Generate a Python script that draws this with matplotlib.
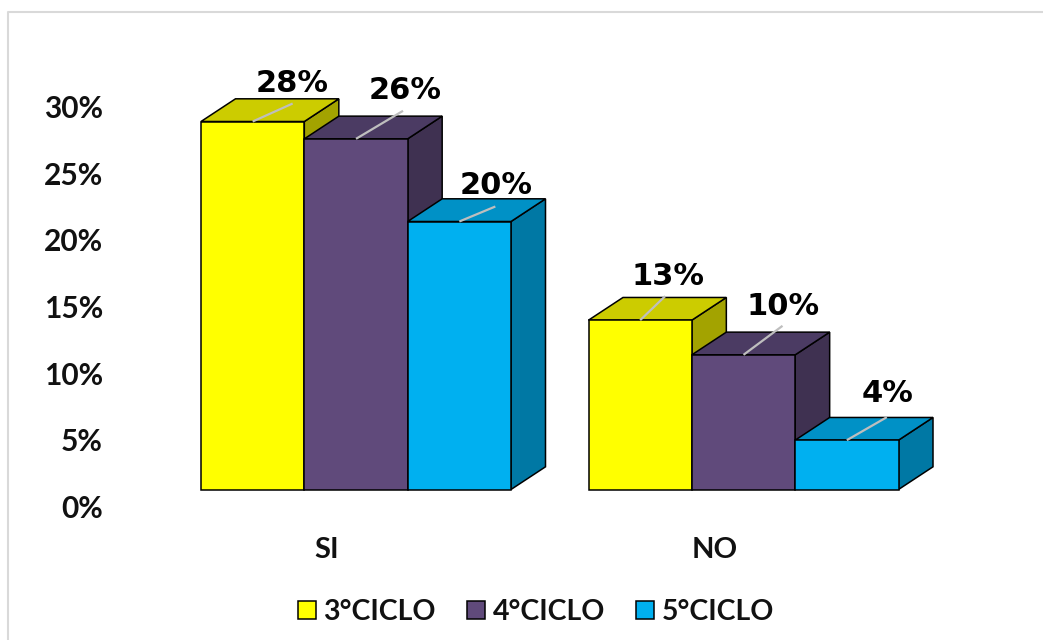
import matplotlib
matplotlib.use("Agg")
import matplotlib.pyplot as plt
from matplotlib.patches import Rectangle, Polygon, Patch
from matplotlib.lines import Line2D

# ---------------- data ----------------
categories = ["SI", "NO"]
series_names = ["3°CICLO", "4°CICLO", "5°CICLO"]
ciclo3 = [0.276, 0.127]
ciclo4 = [0.263, 0.101]
ciclo5 = [0.201, 0.037]
series_values = [ciclo3, ciclo4, ciclo5]
ytick_values = [0.0, 0.05, 0.10, 0.15, 0.20, 0.25, 0.30]

# ---------------- styles / placement ----------------
front_colors = ["#FFFF00", "#604A7B", "#00B0F0"]
top_colors = ["#CCCC00", "#4B3B63", "#0091C6"]
side_colors = ["#A3A300", "#3F3151", "#0078A4"]
# label placement nudges in pixels (dx, dy-up), per category then series
label_nudge = [[(39, 40), (49, 50), (37, 38)], [(28, 45), (40, 50), (41, 48)]]
leader_nudge = [[(40, 18), (47, 28), (36, 15)], [(25, 24), (39, 29), (40, 23)]]

W, H = 1043, 640
fig = plt.figure(figsize=(W / 100, H / 100), dpi=100)
ax = fig.add_axes([0, 0, 1, 1])

PXX = 387.5      # px per category unit
PXY = 1333.3     # px per 1.0 (100 %)
X0 = 356.0       # pixel x of category 0 centre
Y0 = 489.5       # pixel y (from top) of value 0
ax.set_xlim(-X0 / PXX, (W - X0) / PXX)
ax.set_ylim((Y0 - H) / PXY, Y0 / PXY)
ax.axis("off")

def px(dx):
    return dx / PXX

def py(dy):
    return dy / PXY

DX, DY = px(34.5), py(22.7)        # 3D depth offset
group_w = 0.8
bar_w = group_w / len(series_values)
edge_kw = dict(edgecolor="black", linewidth=1.1, joinstyle="miter")

z = 2
for ci, cat in enumerate(categories):
    for si, vals in enumerate(series_values):
        v = vals[ci]
        x = ci - group_w / 2 + si * bar_w
        ax.add_patch(Polygon([(x + bar_w, 0), (x + bar_w + DX, DY),
                              (x + bar_w + DX, v + DY), (x + bar_w, v)],
                             closed=True, facecolor=side_colors[si], zorder=z, **edge_kw))
        ax.add_patch(Polygon([(x, v), (x + bar_w, v), (x + bar_w + DX, v + DY),
                              (x + DX, v + DY)],
                             closed=True, facecolor=top_colors[si], zorder=z, **edge_kw))
        ax.add_patch(Rectangle((x, 0), bar_w, v, facecolor=front_colors[si],
                               zorder=z + 0.5, **edge_kw))
        xc = x + bar_w / 2
        ldx, ldy = leader_nudge[ci][si]
        ax.plot([xc, xc + px(ldx)], [v, v + py(ldy)], color="#BEBEBE", lw=1.6,
                zorder=z + 0.6, solid_capstyle="butt")
        tdx, tdy = label_nudge[ci][si]
        ax.text(xc + px(tdx), v + py(tdy - 10), f"{v:.0%}", ha="center", va="baseline",
                fontsize=22, fontweight="bold", family="DejaVu Sans",
                color="black", zorder=10)
        z += 1

# y tick labels
for t in ytick_values:
    ax.text(-X0 / PXX + px(103), t - py(28.5), f"{t:.0%}", ha="right", va="baseline",
            fontsize=21.5, fontweight="bold", family="Lato", color="#111111")

# category labels
for ci, cat in enumerate(categories):
    ax.text(ci - px(29), -py(69), cat, ha="center", va="baseline",
            fontsize=21, fontweight="bold", family="Lato", color="#111111")

# legend
handles = [Patch(facecolor=c, edgecolor="black", linewidth=1.1) for c in front_colors]
leg = ax.legend(handles, series_names, loc="center", ncol=3, frameon=False,
                bbox_to_anchor=(536 / W, 1 - 612 / H), bbox_transform=fig.transFigure,
                prop={"family": "Lato", "weight": "bold", "size": 20.5},
                handlelength=0.64, handleheight=0.62, handletextpad=0.25,
                columnspacing=1.1, borderpad=0)
for t in leg.get_texts():
    t.set_color("#111111")

# outer chart border
fig.add_artist(Line2D([7.5 / W, 7.5 / W, 1.0], [0, 1 - 12 / H, 1 - 12 / H],
                      transform=fig.transFigure, color="#D9D9D9", lw=1.5))

fig.savefig("out.png", dpi=100, facecolor="white")
